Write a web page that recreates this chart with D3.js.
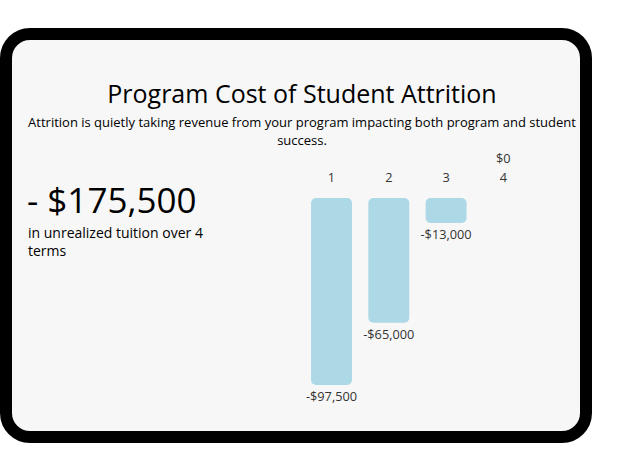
<!DOCTYPE html>
<html><head><meta charset="utf-8">
<script src="https://cdn.jsdelivr.net/npm/d3@7"></script>
<style>body{margin:0;background:#fff;}svg{display:block;font-family:"Open Sans",sans-serif;}</style>
</head><body><svg id="c" width="634" height="475"></svg>
<script>
const categories = ["1","2","3","4"];
const values = [-97500, -65000, -13000, 0];
const valueLabels = ["-$97,500","-$65,000","-$13,000","$0"];
const title = "Program Cost of Student Attrition";
const subtitleLines = ["Attrition is quietly taking revenue from your program impacting both program and student","success."];
const totalText = "- $175,500";
const totalNoteLines = ["in unrealized tuition over 4","terms"];

const svg = d3.select("#c");
svg.append("rect").attr("x",6).attr("y",34).attr("width",580).attr("height",403)
  .attr("rx",24).attr("fill","#f7f7f7").attr("stroke","#000").attr("stroke-width",12);

svg.append("text").attr("x",302).attr("y",103).attr("text-anchor","middle")
  .attr("font-size",25).attr("fill","#000").text(title);
subtitleLines.forEach((t,i)=>svg.append("text").attr("x",302).attr("y",127+i*18)
  .attr("text-anchor","middle").attr("font-size",13).attr("fill","#000").text(t));

svg.append("text").attr("x",27).attr("y",213).attr("font-size",35).attr("fill","#000").text(totalText);
totalNoteLines.forEach((t,i)=>svg.append("text").attr("x",28).attr("y",238+i*18)
  .attr("font-size",14).attr("fill","#000").text(t));

const x = d3.scaleBand().domain(categories).range([294.7,540.2]).padding(0.285);
const y = d3.scaleLinear().domain([0,-97500]).range([198,385]);

const g = svg.append("g");
const axis = d3.axisTop(x).tickSize(0).tickPadding(0);
const ax = g.append("g").attr("transform","translate(0,182)").call(axis);
ax.select(".domain").remove();
ax.selectAll("text").attr("font-size",12.75).attr("fill","#333").attr("font-family","Open Sans").attr("dy",0);

const data = categories.map((c,i)=>({c,v:values[i],l:valueLabels[i]}));
g.selectAll("rect.bar").data(data.filter(d=>d.v!==0)).join("rect").attr("class","bar")
  .attr("x",d=>x(d.c)).attr("width",x.bandwidth())
  .attr("y",d=>y(0)).attr("height",d=>y(d.v)-y(0))
  .attr("rx",5).attr("fill","#add8e6");
g.selectAll("text.vl").data(data).join("text").attr("class","vl")
  .attr("x",d=>x(d.c)+x.bandwidth()/2)
  .attr("y",d=>d.v===0 ? 163 : y(d.v)+16)
  .attr("text-anchor","middle").attr("font-size",12.75).attr("fill","#333").text(d=>d.l);
</script></body></html>
